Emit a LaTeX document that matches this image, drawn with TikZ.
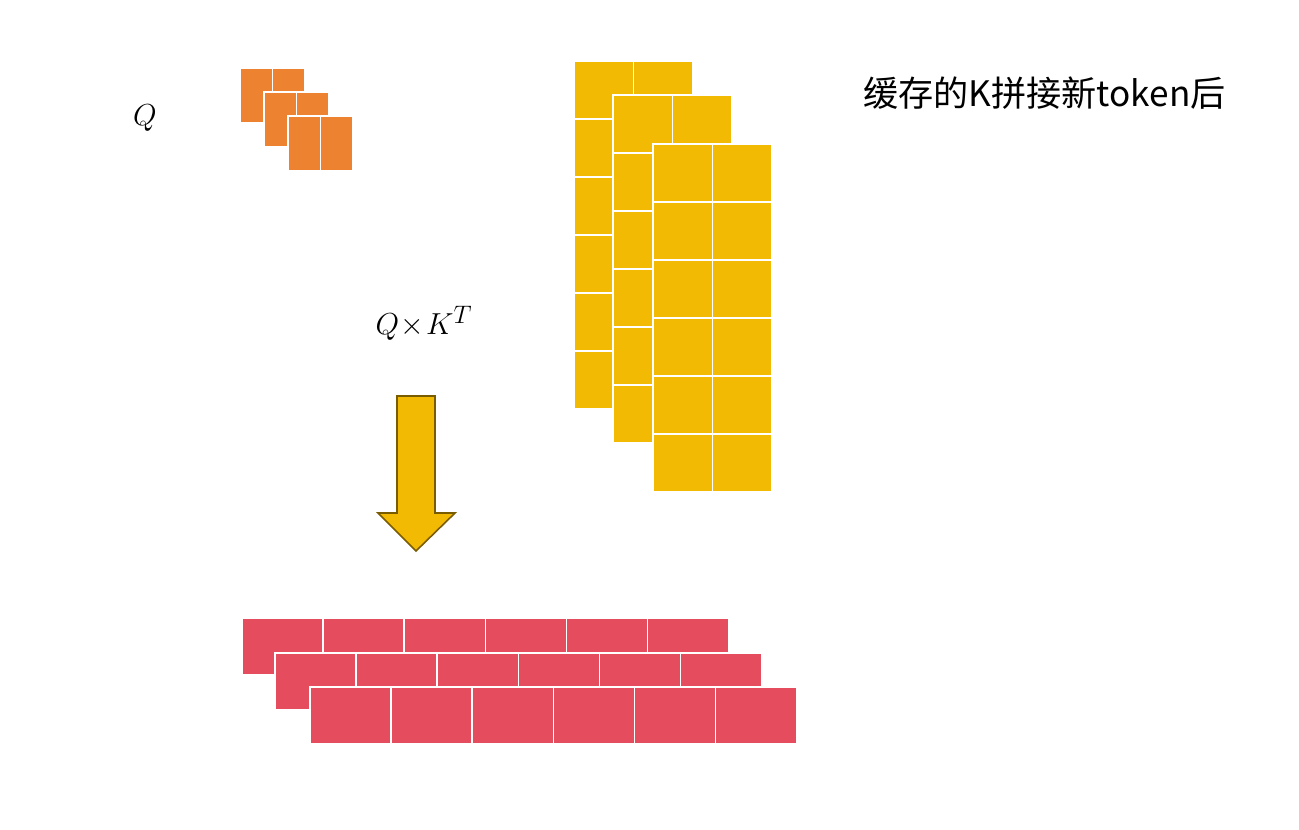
\documentclass[tikz,border=0pt]{standalone}
\usepackage{fontspec}
\newfontfamily\cjkfont{Noto Sans CJK SC}
\usepackage{tikz}
\usetikzlibrary{positioning}

\definecolor{qorange}{HTML}{ED8331}
\definecolor{kyellow}{HTML}{F2BA02}
\definecolor{sred}{HTML}{E54C5E}
\definecolor{arrowedge}{HTML}{7A5C00}

\begin{document}
\begin{tikzpicture}[
        x=0.02cm, y=-0.02cm,
        qcell/.style={draw=white, line width=0.9pt, fill=qorange},
        kcell/.style={draw=white, line width=0.9pt, fill=kyellow},
        scell/.style={draw=white, line width=0.9pt, fill=sred},
        bigarrow/.style={draw=arrowedge, line width=0.9pt, fill=kyellow, line join=miter},
        label/.style={font=\fontsize{19}{23}\selectfont, inner sep=0pt}
      ]
        \useasboundingbox (0,0) rectangle (1299,830);

        % Q: three layers, one row of two cells
        \foreach \ox/\oy in {240/68, 264/92, 288/116} {
            \foreach \c in {0, 1} {
                \draw[qcell] (\ox+\c*32.5, \oy) rectangle ++(32.5, 54.5);
            }
        }
        \node[label] (qlabel) at (145,118) {$Q$};

        % cached K with new token: three layers, six rows of two cells
        \foreach \ox/\oy in {574/61, 613/95, 653/144} {
            \foreach \r in {0, ..., 5} {
                \foreach \c in {0, 1} {
                    \draw[kcell] (\ox+\c*59.3, \oy+\r*58) rectangle ++(59.3, 58);
                }
            }
        }
        \node[label, font=\cjkfont\fontsize{20}{24}\selectfont, anchor=west] (ktitle) at (863,93) {缓存的K拼接新token后};

        % Q x K^T
        \node[label] (qk) at (424,323) {${Q}\mkern1mu{\times}\mkern1mu{K^T}$};
        \draw[bigarrow] (397,396) -- (435,396) -- (435,513) -- (455,513)
            -- (416,551) -- (378,513) -- (397,513) -- cycle;

        % scores: three layers, one row of six cells
        \foreach \ox/\oy in {242/618, 275/653, 310/687} {
            \foreach \c in {0, ..., 5} {
                \draw[scell] (\ox+\c*81.1, \oy) rectangle ++(81.1, 57);
            }
        }
    \end{tikzpicture}
\end{document}
